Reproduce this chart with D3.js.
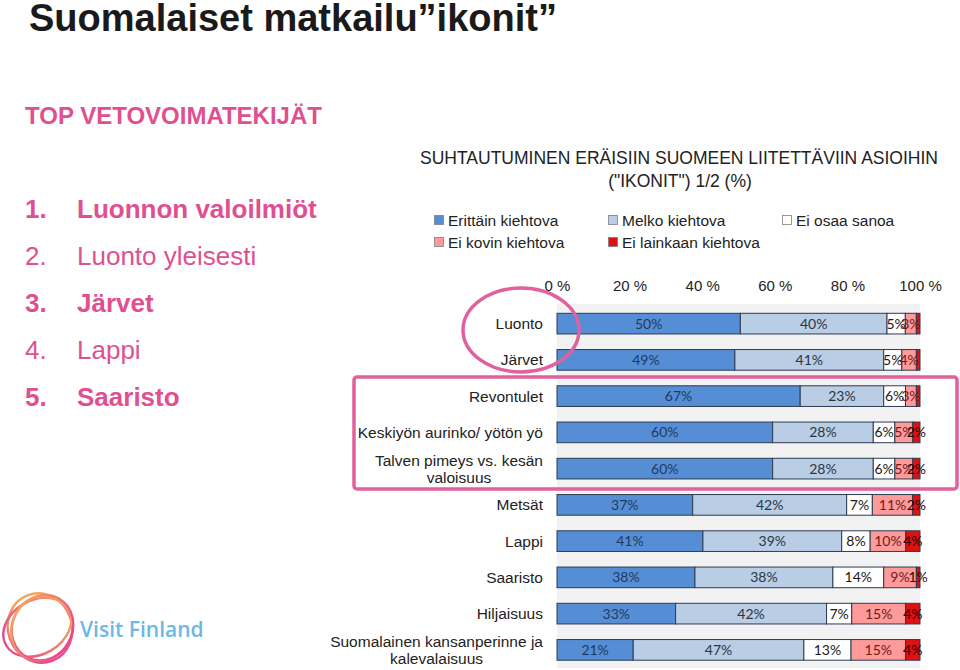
<!DOCTYPE html>
<html><head><meta charset="utf-8">
<script src="https://cdn.jsdelivr.net/npm/d3@7"></script>
<style>
body{margin:0;background:#fff;}
svg{display:block;font-family:"Liberation Sans",Arial,sans-serif;}
</style></head>
<body><svg id="c" width="960" height="670"></svg>
<script>
// ---- data ----
const categories = ["Luonto","Järvet","Revontulet","Keskiyön aurinko/ yötön yö","Talven pimeys vs. kesän\nvaloisuus","Metsät","Lappi","Saaristo","Hiljaisuus","Suomalainen kansanperinne ja\nkalevalaisuus"];
const seriesNames = ["Erittäin kiehtova","Melko kiehtova","Ei osaa sanoa","Ei kovin kiehtova","Ei lainkaan kiehtova"];
const erittain   = [50,49,67,60,60,37,41,38,33,21];
const melko      = [40,41,23,28,28,42,39,38,42,47];
const eiOsaa     = [5,5,6,6,6,7,8,14,7,13];
const eiKovin    = [3,4,3,5,5,11,10,9,15,15];
const eiLainkaan = [1,1,1,2,2,2,4,1,4,4];
const unlabeledRed = ["Luonto","Järvet","Revontulet"];
const xTicks = [0,20,40,60,80,100];
const topList = [["1.","Luonnon valoilmiöt",true],["2.","Luonto yleisesti",false],["3.","Järvet",true],["4.","Lappi",false],["5.","Saaristo",true]];

const colors = ["#558ed5","#b9cde5","#ffffff","#ff9a9a","#e01010"];
const labelColors = ["#1f3a60","#2a3644","#1a1a1a","#6e1b1b","#2a0505"];
const pink = "#e0508f";

const svg = d3.select("#c");

// ---- page titles ----
svg.append("text").attr("x",29).attr("y",31).attr("font-size",38).attr("font-weight","bold")
  .attr("fill","#1a1a1a").text("Suomalaiset matkailu\u201Dikonit\u201D");
svg.append("text").attr("x",25).attr("y",124).attr("font-size",24).attr("font-weight","bold")
  .attr("fill",pink).text("TOP VETOVOIMATEKIJÄT");
const li = svg.append("g").selectAll("g").data(topList).join("g")
  .attr("transform",(d,i)=>`translate(0,${218+i*47})`)
  .attr("font-size",26).attr("fill",pink).attr("font-weight",d=>d[2]?"bold":"normal");
li.append("text").attr("x",25).text(d=>d[0]);
li.append("text").attr("x",77).text(d=>d[1]);

// ---- chart title ----
svg.append("text").attr("x",679).attr("y",164).attr("text-anchor","middle").attr("font-size",17.5)
  .attr("fill","#222").text("SUHTAUTUMINEN ERÄISIIN SUOMEEN LIITETTÄVIIN ASIOIHIN");
svg.append("text").attr("x",680).attr("y",187).attr("text-anchor","middle").attr("font-size",17.5)
  .attr("fill","#222").text("(\"IKONIT\")  1/2 (%)");

// ---- legend ----
const legPos = [[439,220],[613,220],[787,220],[439,242],[613,242]];
const lg = svg.append("g").selectAll("g").data(seriesNames).join("g")
  .attr("transform",(d,i)=>`translate(${legPos[i][0]},${legPos[i][1]})`);
lg.append("rect").attr("x",-4.5).attr("y",-4.5).attr("width",9).attr("height",9)
  .attr("fill",(d,i)=>colors[i]).attr("stroke","#7f7f7f").attr("stroke-width",0.8);
lg.append("text").attr("x",9).attr("y",5.5).attr("font-size",15.5).attr("fill","#222").text(d=>d);

// ---- scales ----
const x = d3.scaleLinear().domain([0,100]).range([557,920]);
const y = d3.scaleBand().domain(categories).range([305.5,668]).paddingInner(0.43).paddingOuter(0.215);

svg.append("rect").attr("x",x(0)).attr("y",304).attr("width",x(100)-x(0)).attr("height",364).attr("fill","#f2f2f2");

const rows = categories.map((c,i)=>({cat:c,s0:erittain[i],s1:melko[i],s2:eiOsaa[i],s3:eiKovin[i],s4:eiLainkaan[i]}));
const stack = d3.stack().keys(["s0","s1","s2","s3","s4"]).offset(d3.stackOffsetExpand);
const layers = stack(rows);

const gl = svg.append("g").selectAll("g").data(layers).join("g").attr("fill",(d,i)=>colors[i]);
gl.selectAll("rect").data(d=>d).join("rect")
  .attr("x",d=>x(d[0]*100)).attr("width",d=>x(d[1]*100)-x(d[0]*100))
  .attr("y",d=>y(d.data.cat)).attr("height",y.bandwidth())
  .attr("stroke","#2b3b52").attr("stroke-width",1);

const tl = svg.append("g").selectAll("g").data(layers).join("g")
  .attr("fill",(d,i)=>labelColors[i]).attr("font-family","Lato, 'Open Sans', sans-serif").attr("font-size",14);
tl.selectAll("text").data((d,i)=>d.map(v=>({v,i,key:d.key}))).join("text")
  .filter(d=>!(d.i===4 && unlabeledRed.includes(d.v.data.cat)))
  .attr("x",d=>x((d.v[0]+d.v[1])*50)).attr("y",d=>y(d.v.data.cat)+y.bandwidth()/2+5)
  .attr("text-anchor","middle").text(d=>d.v.data[d.key]+"%");

// ---- axes ----
const ax = svg.append("g").attr("transform","translate(0,291)")
  .call(d3.axisTop(x).tickValues(xTicks).tickFormat(d=>d+" %").tickSize(0).tickPadding(0));
ax.select(".domain").remove();
ax.selectAll("text").attr("font-size",15).attr("font-family","Liberation Sans, Arial, sans-serif").attr("fill","#222");

const cl = svg.append("g").attr("font-size",15.5).attr("fill","#222");
categories.forEach(c=>{
  const lines = c.split("\n");
  const cy = y(c)+y.bandwidth()/2;
  const t = cl.append("text").attr("text-anchor","end").attr("x",543);
  if(lines.length===1){ t.attr("y",cy+5.5).text(c); }
  else{
    t.attr("text-anchor","middle");
    const tmp = cl.append("text").text(lines[0]);
    const w = tmp.node().getComputedTextLength(); tmp.remove();
    const mx = 543-w/2;
    lines.forEach((ln,k)=>t.append("tspan").attr("x",mx).attr("y",cy-3+k*17).text(ln));
  }
});

// ---- annotations ----
svg.append("ellipse").attr("cx",521).attr("cy",330).attr("rx",58).attr("ry",42)
  .attr("fill","none").attr("stroke","#e2609c").attr("stroke-width",3.5);
svg.append("rect").attr("x",354).attr("y",377).attr("width",603).attr("height",112).attr("rx",3)
  .attr("fill","none").attr("stroke","#e2609c").attr("stroke-width",3.5);

// ---- logo ----
const defs = svg.append("defs");
const gr = defs.append("linearGradient").attr("id","lg").attr("x1",0).attr("y1",0).attr("x2",0).attr("y2",1);
gr.append("stop").attr("offset","0%").attr("stop-color","#f5a55a");
gr.append("stop").attr("offset","100%").attr("stop-color","#e7478f");
const logo = svg.append("g").attr("transform","translate(40,628)").attr("fill","none")
  .attr("stroke","url(#lg)").attr("stroke-width",2.4);
[[32,35,-20,0,0],[30,33,25,2,-1],[27,36,60,-2,2],[34,30,-60,1,2]].forEach(e=>{
  logo.append("ellipse").attr("cx",e[3]).attr("cy",e[4]).attr("rx",e[0]).attr("ry",e[1])
    .attr("transform",`rotate(${e[2]})`);
});
svg.append("text").attr("x",80).attr("y",637).attr("font-family","'Open Sans', sans-serif").attr("font-weight",600)
  .attr("font-size",21).attr("fill","#6cb8e6").text("Visit Finland");
</script></body></html>
